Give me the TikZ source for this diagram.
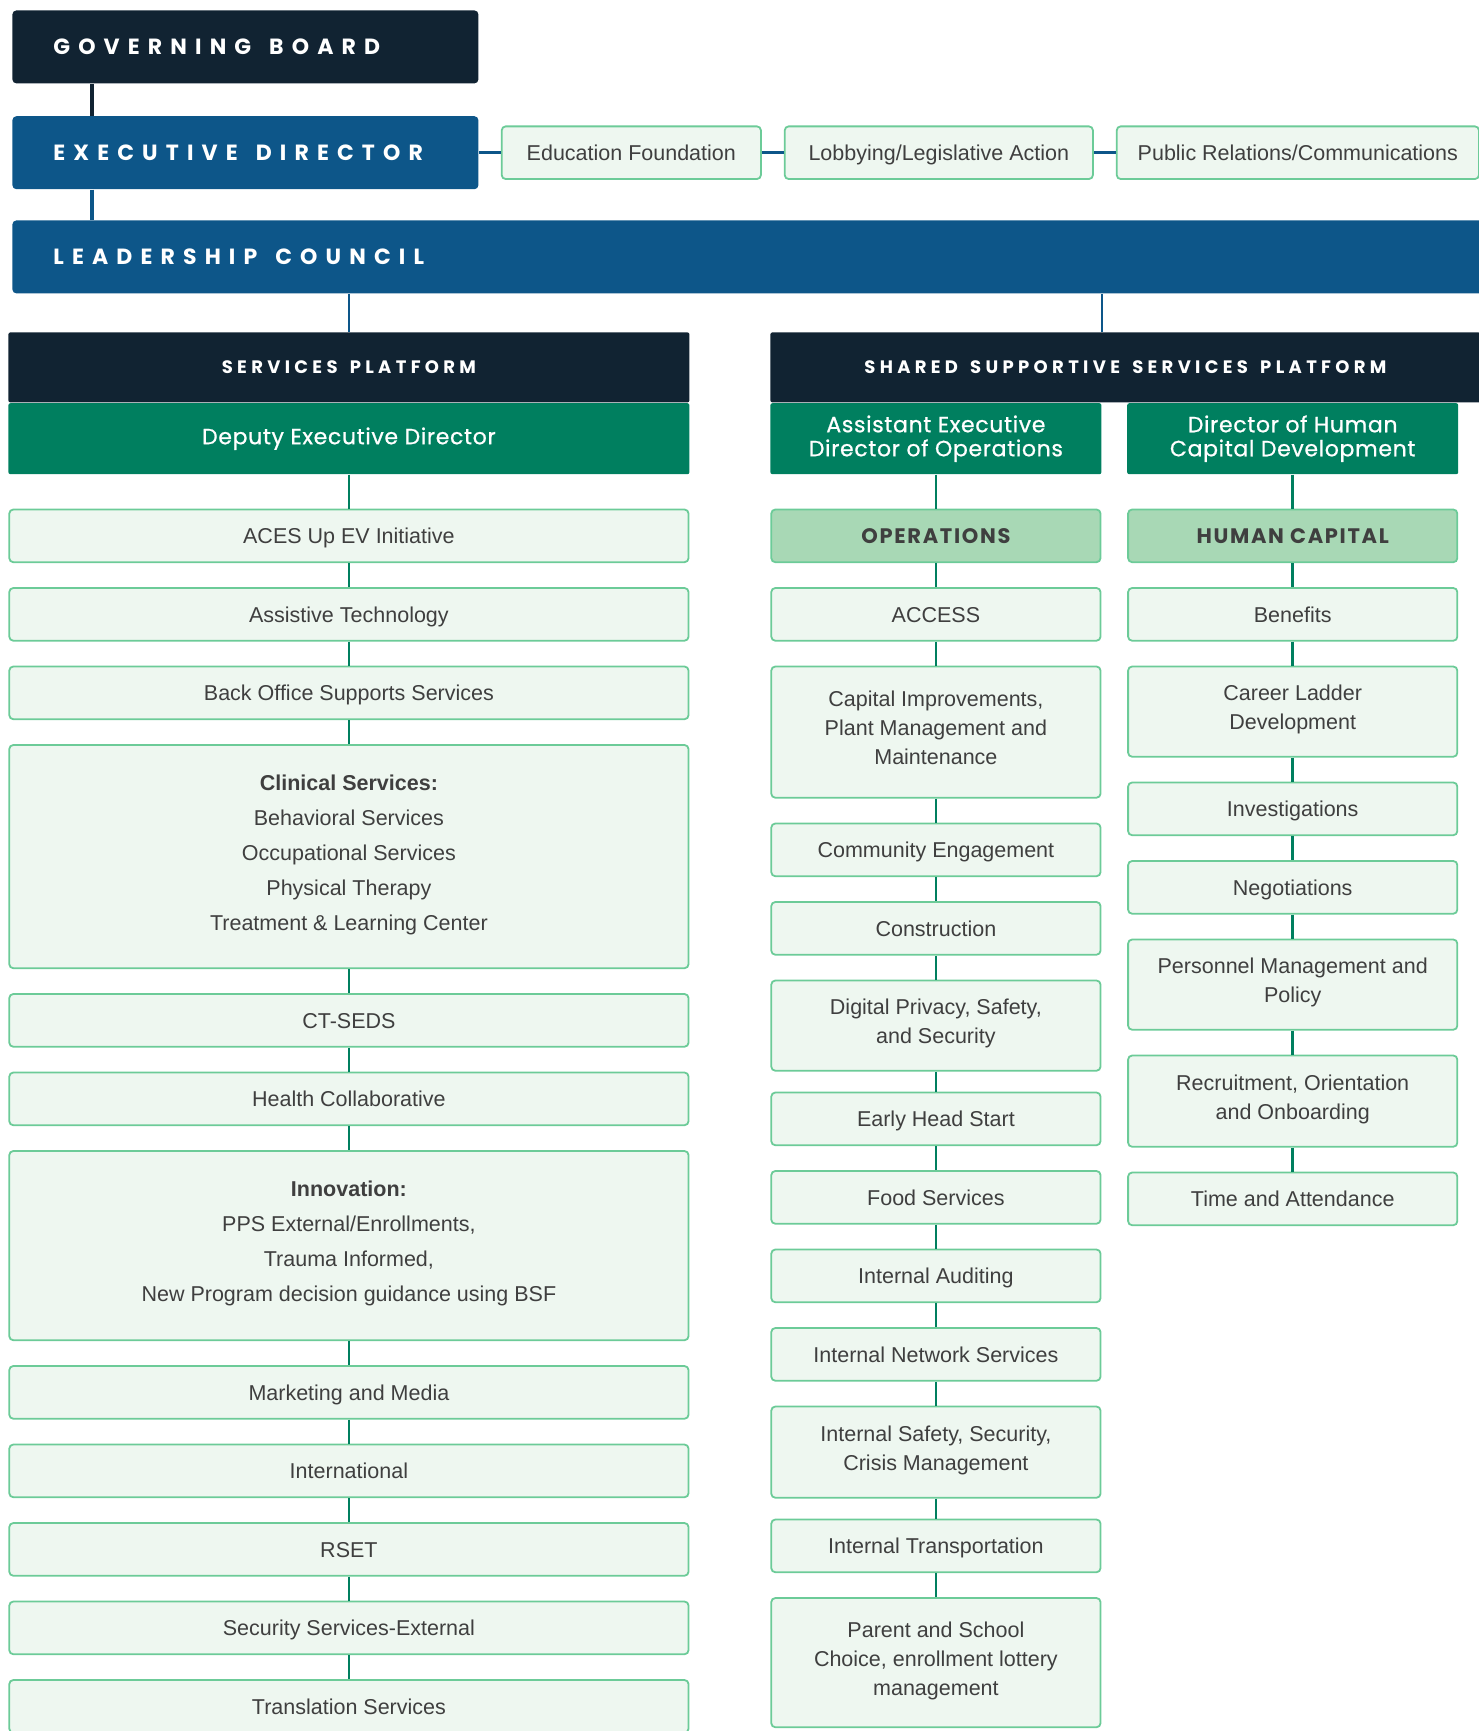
\documentclass[tikz,border=0pt]{standalone}
\usepackage{fontspec}
\setmainfont{Liberation Sans}
\newfontfamily\barfam[LetterSpace=37]{Poppins}
\newfontfamily\platfam[LetterSpace=24,WordSpace=1.5]{Poppins}
\newfontfamily\leadfam[LetterSpace=3,FakeBold=0.8]{Poppins}
\newfontfamily\secfam[LetterSpace=8]{Poppins}
\usetikzlibrary{positioning}

\definecolor{navy}{HTML}{112332}
\definecolor{cblue}{HTML}{0D5689}
\definecolor{cgreen}{HTML}{007F5F}
\definecolor{boxfill}{HTML}{EEF7F0}
\definecolor{boxline}{HTML}{6CCB98}
\definecolor{secfill}{HTML}{A8D8B5}
\definecolor{ink}{HTML}{3F3F3F}

\newcommand\barfont{\barfam\bfseries\fontsize{11bp}{13bp}\selectfont}
\newcommand\platfont{\platfam\bfseries\fontsize{9bp}{11bp}\selectfont}
\newcommand\leadfont{\leadfam\fontsize{11bp}{12bp}\selectfont}
\newcommand\secfont{\secfam\bfseries\fontsize{10.5bp}{12bp}\selectfont}
\newcommand\bodyfont{\fontsize{10.75bp}{14.5bp}\selectfont}
\newcommand\wgap{\hspace{9bp}}

\begin{document}
\begin{tikzpicture}[
  x=0.5bp, y=-0.5bp,
  node distance=12bp,
  topbar/.style={rectangle, rounded corners=2bp, fill=#1, text=white, inner sep=0pt, inner xsep=20.5bp, minimum height=36.5bp, align=left, font=\barfont},
  platbar/.style={rectangle, rounded corners=1bp, fill=navy, text=white, inner sep=0pt, minimum height=35bp, font=\platfont},
  leadbar/.style={rectangle, rounded corners=1bp, fill=cgreen, text=white, inner sep=0pt, minimum height=35.5bp, align=center, font=\leadfont},
  unitbox/.style={rectangle, rounded corners=2bp, draw=boxline, line width=0.9bp, fill=boxfill, text=ink, inner sep=0pt, minimum height=26.35bp, align=center, font=\bodyfont},
  sidebox/.style={unitbox, text height=10bp, text depth=2.3bp},
  widebox/.style={unitbox, minimum width=339.6bp, text height=10bp, text depth=2.3bp},
  widelist/.style={unitbox, minimum width=339.6bp, execute at begin node={\strut}},
  narrowbox/.style={unitbox, minimum width=164.6bp, text height=10bp, text depth=2.3bp},
  narrowlist/.style={unitbox, minimum width=164.6bp, execute at begin node={\strut}},
  secbox/.style={narrowbox, fill=secfill, font=\secfont},
  glink/.style={draw=cgreen, line width=1.4bp},
  blink/.style={draw=cblue, line width=1.5bp},
]
\useasboundingbox (0,0) rectangle (1479,1731);
\clip (0,0) rectangle (1479,1731);

% top of the chart
\node[topbar=navy, text width=192bp, anchor=north west] (board) at (12,10) {GOVERNING\wgap BOARD};
\node[topbar=cblue, text width=192bp, below=16bp of board] (exec) {EXECUTIVE\wgap DIRECTOR};
\node[topbar=cblue, text width=700bp, anchor=north west] (lc) at (12,220) {LEADERSHIP\wgap COUNCIL};
\node[sidebox, minimum width=129.6bp, right=11bp of exec] (edu) {Education Foundation};
\node[sidebox, minimum width=154.1bp, right=11bp of edu] (lobby) {Lobbying/Legislative Action};
\node[sidebox, minimum width=181.1bp, right=11bp of lobby] (pr) {Public Relations/Communications};

% platforms
\node[platbar, minimum width=340.5bp, anchor=north west] (svc) at (8,332) {SERVICES PLATFORM};
\node[leadbar, minimum width=340.5bp, below=0pt of svc] (ded) {Deputy Executive Director};
\node[platbar, minimum width=355bp, anchor=north west] (shared) at (770,332) {SHARED SUPPORTIVE SERVICES PLATFORM};
\node[leadbar, minimum width=165.5bp, anchor=north west] (aed) at (shared.south west) {Assistant Executive\\Director of Operations};
\node[leadbar, minimum width=165.5bp, right=12.5bp of aed] (dhc) {Director of Human\\Capital Development};

% services column
\node[widebox, below=17bp of ded] (aces) {ACES Up EV Initiative};
\node[widebox, below=of aces] (assist) {Assistive Technology};
\node[widebox, below=of assist] (backoff) {Back Office Supports Services};
\node[widelist, below=of backoff, minimum height=111.6bp] (clinical) {\textbf{Clinical Services:}\\[3bp] Behavioral Services\\[3bp] Occupational Services\\[3bp] Physical Therapy\\[3bp] Treatment \& Learning Center};
\node[widebox, below=of clinical] (ctseds) {CT-SEDS};
\node[widebox, below=of ctseds] (health) {Health Collaborative};
\node[widelist, below=of health, minimum height=94.6bp] (innov) {\textbf{Innovation:}\\[3bp] PPS External/Enrollments,\\[3bp] Trauma Informed,\\[3bp] New Program decision guidance using BSF};
\node[widebox, below=of innov] (market) {Marketing and Media};
\node[widebox, below=of market] (intl) {International};
\node[widebox, below=of intl] (rset) {RSET};
\node[widebox, below=of rset] (secext) {Security Services-External};
\node[widebox, below=of secext] (transl) {Translation Services};

% operations column
\node[secbox, below=17bp of aed] (ops) {OPERATIONS};
\node[narrowbox, below=of ops] (access) {ACCESS};
\node[narrowlist, below=of access, minimum height=65.6bp] (capital) {Capital Improvements,\\Plant Management and\\Maintenance};
\node[narrowbox, below=of capital] (community) {Community Engagement};
\node[narrowbox, below=of community] (constr) {Construction};
\node[narrowlist, below=of constr, minimum height=45.1bp] (digital) {Digital Privacy, Safety,\\and Security};
\node[narrowbox, below=10bp of digital] (ehs) {Early Head Start};
\node[narrowbox, below=of ehs] (food) {Food Services};
\node[narrowbox, below=of food] (audit) {Internal Auditing};
\node[narrowbox, below=of audit] (network) {Internal Network Services};
\node[narrowlist, below=of network, minimum height=45.6bp] (safety) {Internal Safety, Security,\\Crisis Management};
\node[narrowbox, below=10bp of safety] (transp) {Internal Transportation};
\node[narrowlist, below=of transp, minimum height=64.6bp] (parent) {Parent and School\\Choice, enrollment lottery\\management};

% human capital column
\node[secbox, below=17bp of dhc] (hcap) {HUMAN CAPITAL};
\node[narrowbox, below=of hcap] (benefits) {Benefits};
\node[narrowlist, below=of benefits, minimum height=45.1bp] (career) {Career Ladder\\Development};
\node[narrowbox, below=of career] (invest) {Investigations};
\node[narrowbox, below=of invest] (negot) {Negotiations};
\node[narrowlist, below=of negot, minimum height=45.1bp] (personnel) {Personnel Management and\\Policy};
\node[narrowlist, below=of personnel, minimum height=45.6bp] (recruit) {Recruitment, Orientation\\and Onboarding};
\node[narrowbox, below=of recruit] (timeatt) {Time and Attendance};

% links at the top
\draw[draw=navy, line width=2.2bp] ([xshift=40bp]board.south west) -- ([xshift=40bp]exec.north west);
\draw[blink, line width=2.2bp] ([xshift=40bp]exec.south west) -- ([xshift=40bp]lc.north west);
\draw[blink] (exec.east) -- (exec.east -| edu.west);
\draw[blink] (edu.east) -- (lobby.west);
\draw[blink] (lobby.east) -- (pr.west);
\draw[blink, line width=1.2bp] (svc.north |- lc.south) -- (svc.north);
\draw[blink, line width=1.2bp] (aed.north east |- lc.south) -- (aed.north east |- shared.north);
% services links
\draw[glink] (ded) -- (aces);
\draw[glink] (aces) -- (assist);
\draw[glink] (assist) -- (backoff);
\draw[glink] (backoff) -- (clinical);
\draw[glink] (clinical) -- (ctseds);
\draw[glink] (ctseds) -- (health);
\draw[glink] (health) -- (innov);
\draw[glink] (innov) -- (market);
\draw[glink] (market) -- (intl);
\draw[glink] (intl) -- (rset);
\draw[glink] (rset) -- (secext);
\draw[glink] (secext) -- (transl);
% operations links
\draw[glink] (aed) -- (ops);
\draw[glink] (ops) -- (access);
\draw[glink] (access) -- (capital);
\draw[glink] (capital) -- (community);
\draw[glink] (community) -- (constr);
\draw[glink] (constr) -- (digital);
\draw[glink] (digital) -- (ehs);
\draw[glink] (ehs) -- (food);
\draw[glink] (food) -- (audit);
\draw[glink] (audit) -- (network);
\draw[glink] (network) -- (safety);
\draw[glink] (safety) -- (transp);
\draw[glink] (transp) -- (parent);
% human capital links
\draw[glink] (dhc) -- (hcap);
\draw[glink] (hcap) -- (benefits);
\draw[glink] (benefits) -- (career);
\draw[glink] (career) -- (invest);
\draw[glink] (invest) -- (negot);
\draw[glink] (negot) -- (personnel);
\draw[glink] (personnel) -- (recruit);
\draw[glink] (recruit) -- (timeatt);
\end{tikzpicture}
\end{document}
